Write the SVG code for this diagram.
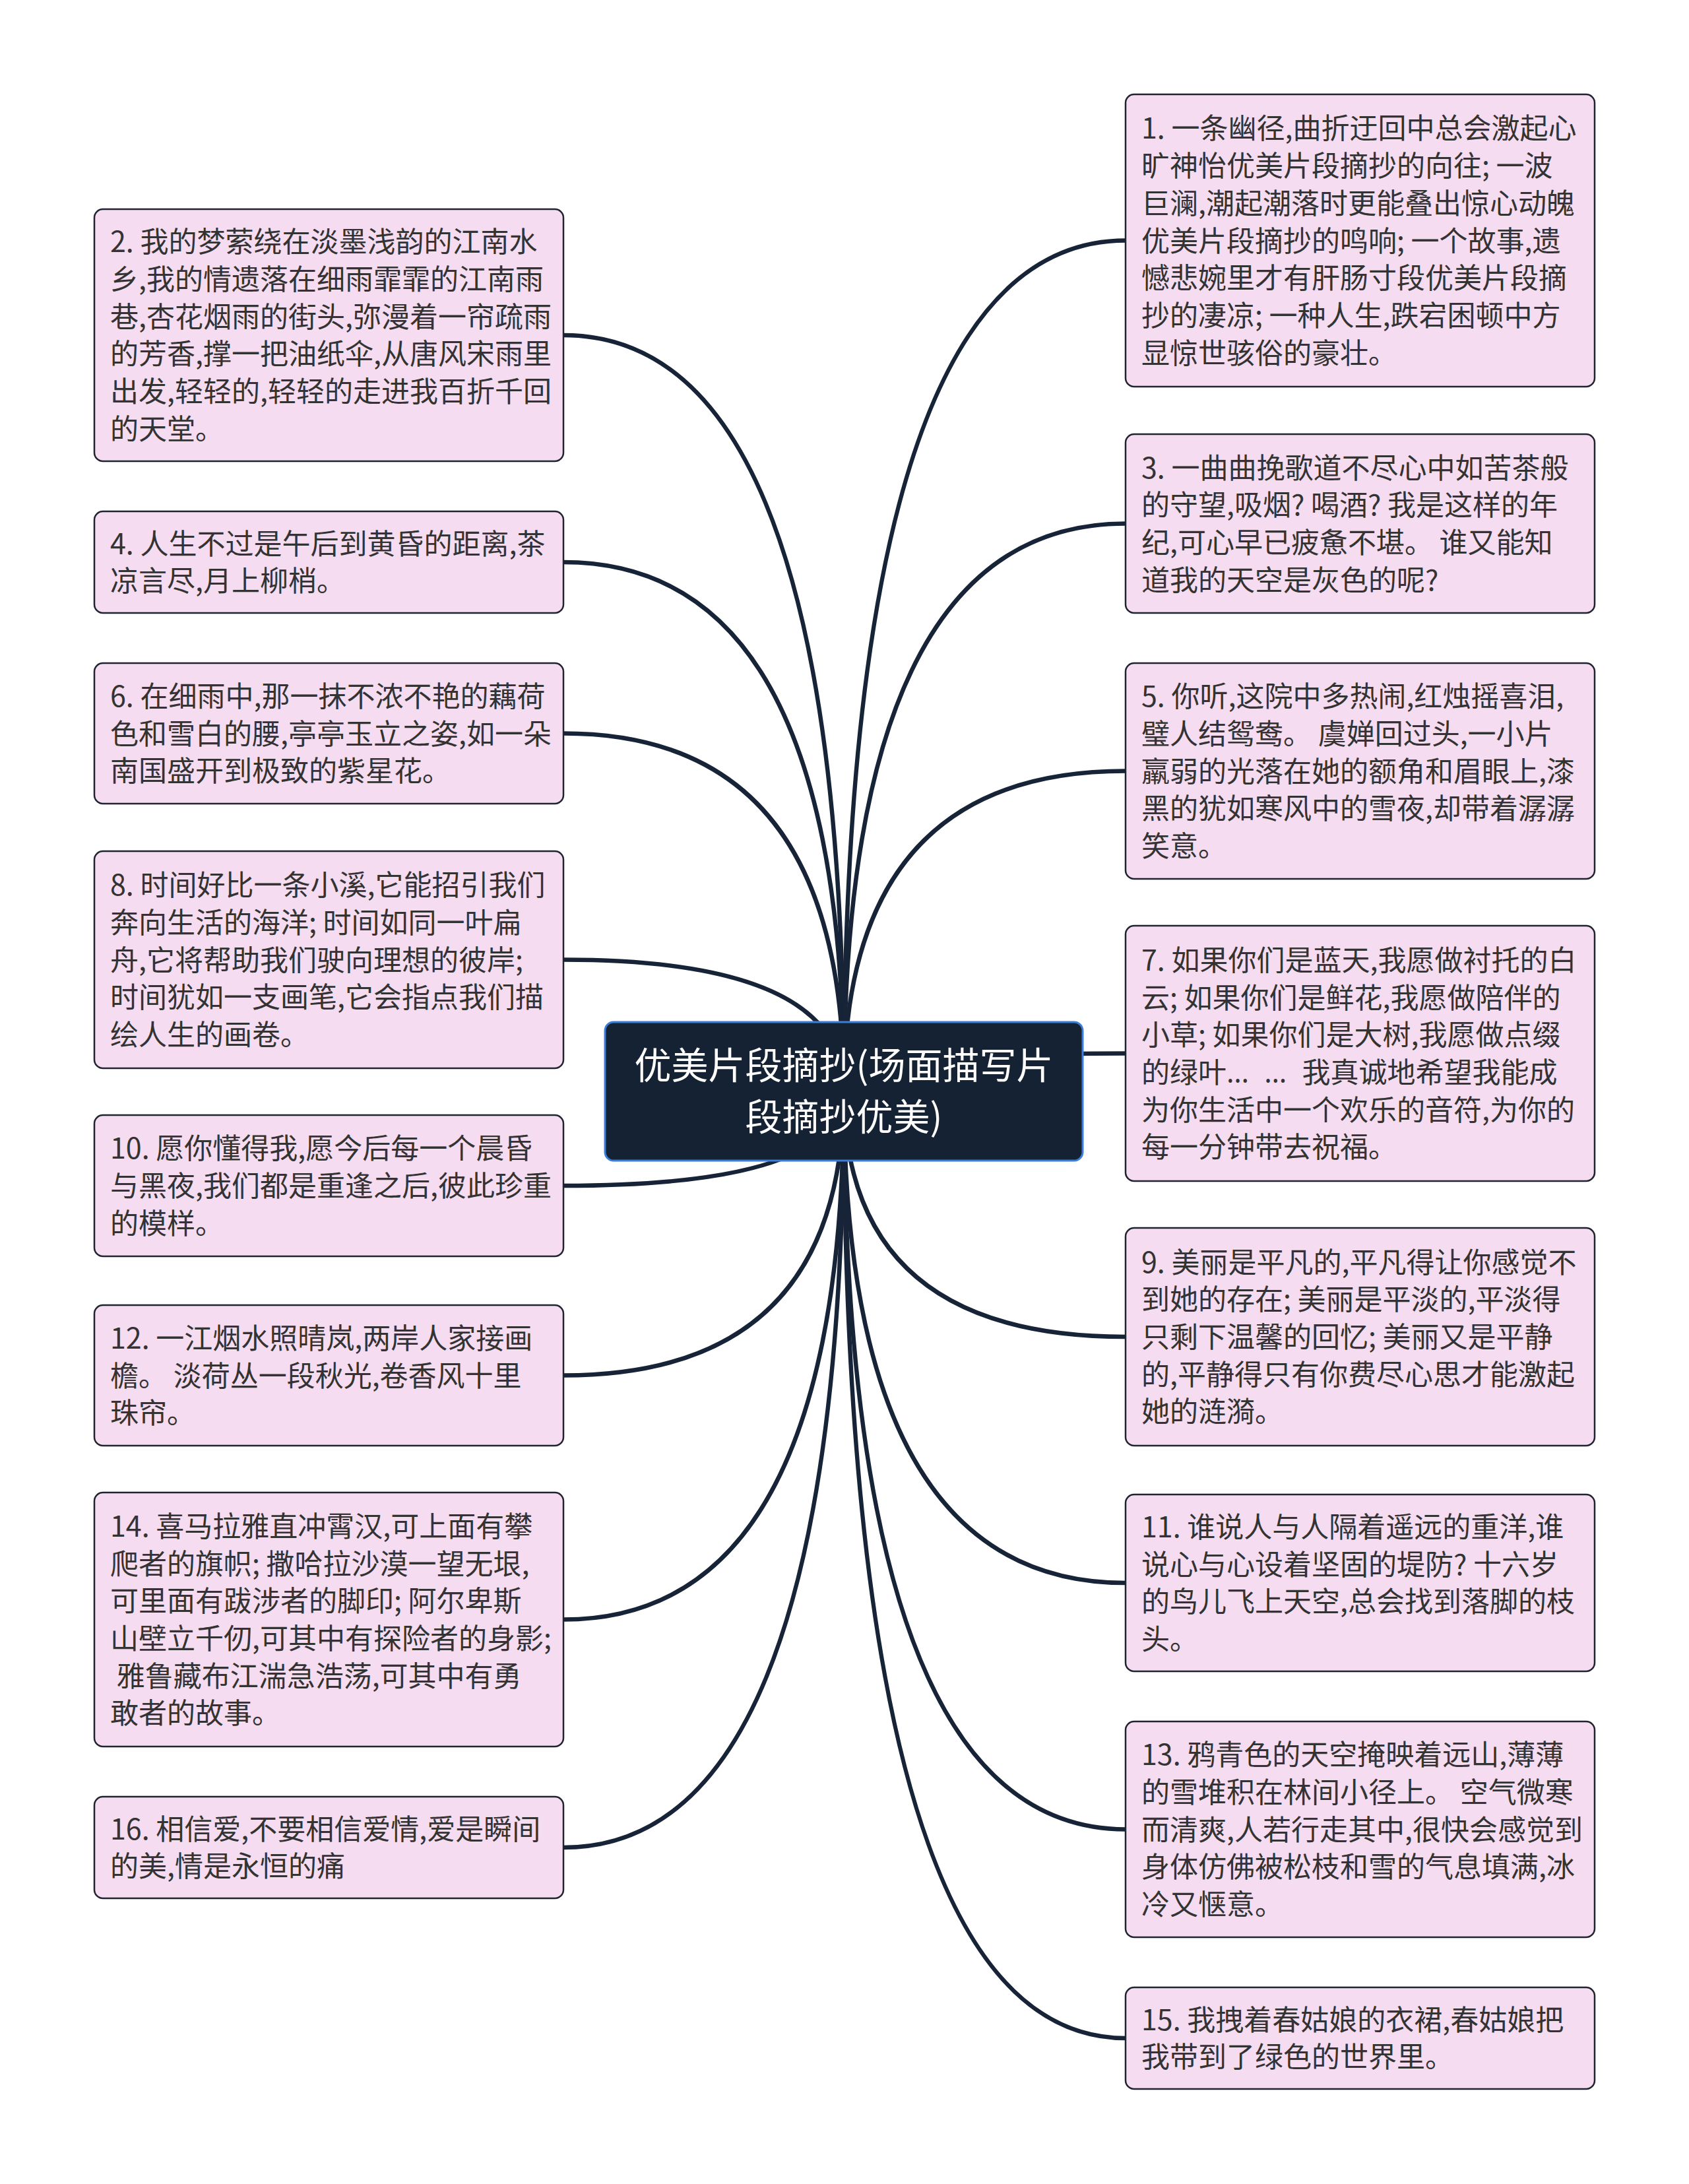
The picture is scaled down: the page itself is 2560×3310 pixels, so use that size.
<svg xmlns="http://www.w3.org/2000/svg" width="2560" height="3310" viewBox="0 0 2560 3310">
<style>
.bg{fill:#ffffff}
.node rect{fill:#f6dcf0;stroke:#1f2430;stroke-width:2.5}
.node text{font-family:"Noto Sans CJK SC","Noto Sans",sans-serif;font-size:43px;fill:#333333}
.lat{font-family:"Noto Sans","Liberation Sans",sans-serif;letter-spacing:6px}
.root rect{fill:#152234;stroke:#3b7fd6;stroke-width:3}
.root text{font-family:"Noto Sans CJK SC","Noto Sans",sans-serif;font-size:56px;fill:#ffffff;text-anchor:middle}
.links path{fill:none;stroke:#172337;stroke-width:6.5;stroke-linecap:round}
</style>
<rect class="bg" x="0" y="0" width="2560" height="3310"/>
<g id="connectors" class="links">
<path d="M1279 1652 Q1279 508 854 508"/>
<path d="M1279 1652 Q1279 852 854 852"/>
<path d="M1279 1652 Q1279 1111.5 854 1111.5"/>
<path d="M1279 1652 Q1279 1454.5 854 1454.5"/>
<path d="M1279 1652 Q1279 1797 854 1797"/>
<path d="M1279 1652 Q1279 2084.5 854 2084.5"/>
<path d="M1279 1652 Q1279 2454.5 854 2454.5"/>
<path d="M1279 1652 Q1279 2800 854 2800"/>
<path d="M1279 1652 Q1279 364.5 1706 364.5"/>
<path d="M1279 1652 Q1279 793.5 1706 793.5"/>
<path d="M1279 1652 Q1279 1168.5 1706 1168.5"/>
<path d="M1279 1652 Q1279 1596.5 1706 1596.5"/>
<path d="M1279 1652 Q1279 2026 1706 2026"/>
<path d="M1279 1652 Q1279 2399 1706 2399"/>
<path d="M1279 1652 Q1279 2772.5 1706 2772.5"/>
<path d="M1279 1652 Q1279 3089 1706 3089"/>
</g>
<g id="root" class="root">
<rect x="917" y="1549" width="724" height="210" rx="13"/>
<text><tspan x="1279" y="1635">优美片段摘抄(场面描写片</tspan><tspan x="1279" y="1713">段摘抄优美)</tspan></text>
</g>
<g id="n2" class="node">
<rect x="143" y="317" width="711" height="382" rx="13"/>
<text><tspan x="167" y="382.3">2. 我的梦萦绕在淡墨浅韵的江南水</tspan><tspan x="167" y="439">乡,我的情遗落在细雨霏霏的江南雨</tspan><tspan x="167" y="495.7">巷,杏花烟雨的街头,弥漫着一帘疏雨</tspan><tspan x="167" y="552.4">的芳香,撑一把油纸伞,从唐风宋雨里</tspan><tspan x="167" y="609.1">出发,轻轻的,轻轻的走进我百折千回</tspan><tspan x="167" y="665.8">的天堂。</tspan></text>
</g>
<g id="n4" class="node">
<rect x="143" y="775" width="711" height="154" rx="13"/>
<text><tspan x="167" y="839.7">4. 人生不过是午后到黄昏的距离,茶</tspan><tspan x="167" y="896.4">凉言尽,月上柳梢。</tspan></text>
</g>
<g id="n6" class="node">
<rect x="143" y="1005" width="711" height="213" rx="13"/>
<text><tspan x="167" y="1070.8">6. 在细雨中,那一抹不浓不艳的藕荷</tspan><tspan x="167" y="1127.5">色和雪白的腰,亭亭玉立之姿,如一朵</tspan><tspan x="167" y="1184.2">南国盛开到极致的紫星花。</tspan></text>
</g>
<g id="n8" class="node">
<rect x="143" y="1290" width="711" height="329" rx="13"/>
<text><tspan x="167" y="1357.1">8. 时间好比一条小溪,它能招引我们</tspan><tspan x="167" y="1413.8">奔向生活的海洋; 时间如同一叶扁</tspan><tspan x="167" y="1470.5">舟,它将帮助我们驶向理想的彼岸;</tspan><tspan x="167" y="1527.2">时间犹如一支画笔,它会指点我们描</tspan><tspan x="167" y="1583.9">绘人生的画卷。</tspan></text>
</g>
<g id="n10" class="node">
<rect x="143" y="1690" width="711" height="214" rx="13"/>
<text><tspan x="167" y="1756.3">10. 愿你懂得我,愿今后每一个晨昏</tspan><tspan x="167" y="1813">与黑夜,我们都是重逢之后,彼此珍重</tspan><tspan x="167" y="1869.7">的模样。</tspan></text>
</g>
<g id="n12" class="node">
<rect x="143" y="1978" width="711" height="213" rx="13"/>
<text><tspan x="167" y="2043.8">12. 一江烟水照晴岚,两岸人家接画</tspan><tspan x="167" y="2100.5">檐。 淡荷丛一段秋光,卷香风十里</tspan><tspan x="167" y="2157.2">珠帘。</tspan></text>
</g>
<g id="n14" class="node">
<rect x="143" y="2262" width="711" height="385" rx="13"/>
<text><tspan x="167" y="2328.8">14. 喜马拉雅直冲霄汉,可上面有攀</tspan><tspan x="167" y="2385.5">爬者的旗帜; 撒哈拉沙漠一望无垠,</tspan><tspan x="167" y="2442.2">可里面有跋涉者的脚印; 阿尔卑斯</tspan><tspan x="167" y="2498.9">山壁立千仞,可其中有探险者的身影;</tspan><tspan x="167" y="2555.6">&#160;雅鲁藏布江湍急浩荡,可其中有勇</tspan><tspan x="167" y="2612.3">敢者的故事。</tspan></text>
</g>
<g id="n16" class="node">
<rect x="143" y="2723" width="711" height="154" rx="13"/>
<text><tspan x="167" y="2787.7">16. 相信爱,不要相信爱情,爱是瞬间</tspan><tspan x="167" y="2844.4">的美,情是永恒的痛</tspan></text>
</g>
<g id="n1" class="node">
<rect x="1706" y="143" width="711" height="443" rx="13"/>
<text><tspan x="1730" y="210.4">1. 一条幽径,曲折迂回中总会激起心</tspan><tspan x="1730" y="267.1">旷神怡优美片段摘抄的向往; 一波</tspan><tspan x="1730" y="323.8">巨澜,潮起潮落时更能叠出惊心动魄</tspan><tspan x="1730" y="380.5">优美片段摘抄的鸣响; 一个故事,遗</tspan><tspan x="1730" y="437.2">憾悲婉里才有肝肠寸段优美片段摘</tspan><tspan x="1730" y="493.9">抄的凄凉; 一种人生,跌宕困顿中方</tspan><tspan x="1730" y="550.6">显惊世骇俗的豪壮。</tspan></text>
</g>
<g id="n3" class="node">
<rect x="1706" y="658" width="711" height="271" rx="13"/>
<text><tspan x="1730" y="724.5">3. 一曲曲挽歌道不尽心中如苦茶般</tspan><tspan x="1730" y="781.2">的守望,吸烟? 喝酒? 我是这样的年</tspan><tspan x="1730" y="837.9">纪,可心早已疲惫不堪。 谁又能知</tspan><tspan x="1730" y="894.6">道我的天空是灰色的呢?</tspan></text>
</g>
<g id="n5" class="node">
<rect x="1706" y="1005" width="711" height="327" rx="13"/>
<text><tspan x="1730" y="1071.1">5. 你听,这院中多热闹,红烛摇喜泪,</tspan><tspan x="1730" y="1127.8">璧人结鸳鸯。 虞婵回过头,一小片</tspan><tspan x="1730" y="1184.5">羸弱的光落在她的额角和眉眼上,漆</tspan><tspan x="1730" y="1241.2">黑的犹如寒风中的雪夜,却带着潺潺</tspan><tspan x="1730" y="1297.9">笑意。</tspan></text>
</g>
<g id="n7" class="node">
<rect x="1706" y="1403" width="711" height="387" rx="13"/>
<text><tspan x="1730" y="1470.8">7. 如果你们是蓝天,我愿做衬托的白</tspan><tspan x="1730" y="1527.5">云; 如果你们是鲜花,我愿做陪伴的</tspan><tspan x="1730" y="1584.2">小草; 如果你们是大树,我愿做点缀</tspan><tspan x="1730" y="1640.9">的绿叶<tspan class="lat">… … </tspan>我真诚地希望我能成</tspan><tspan x="1730" y="1697.6">为你生活中一个欢乐的音符,为你的</tspan><tspan x="1730" y="1754.3">每一分钟带去祝福。</tspan></text>
</g>
<g id="n9" class="node">
<rect x="1706" y="1861" width="711" height="330" rx="13"/>
<text><tspan x="1730" y="1928.6">9. 美丽是平凡的,平凡得让你感觉不</tspan><tspan x="1730" y="1985.3">到她的存在; 美丽是平淡的,平淡得</tspan><tspan x="1730" y="2042">只剩下温馨的回忆; 美丽又是平静</tspan><tspan x="1730" y="2098.7">的,平静得只有你费尽心思才能激起</tspan><tspan x="1730" y="2155.4">她的涟漪。</tspan></text>
</g>
<g id="n11" class="node">
<rect x="1706" y="2265" width="711" height="268" rx="13"/>
<text><tspan x="1730" y="2330">11. 谁说人与人隔着遥远的重洋,谁</tspan><tspan x="1730" y="2386.7">说心与心设着坚固的堤防? 十六岁</tspan><tspan x="1730" y="2443.4">的鸟儿飞上天空,总会找到落脚的枝</tspan><tspan x="1730" y="2500.1">头。</tspan></text>
</g>
<g id="n13" class="node">
<rect x="1706" y="2609" width="711" height="327" rx="13"/>
<text><tspan x="1730" y="2675.1">13. 鸦青色的天空掩映着远山,薄薄</tspan><tspan x="1730" y="2731.8">的雪堆积在林间小径上。 空气微寒</tspan><tspan x="1730" y="2788.5">而清爽,人若行走其中,很快会感觉到</tspan><tspan x="1730" y="2845.2">身体仿佛被松枝和雪的气息填满,冰</tspan><tspan x="1730" y="2901.9">冷又惬意。</tspan></text>
</g>
<g id="n15" class="node">
<rect x="1706" y="3012" width="711" height="154" rx="13"/>
<text><tspan x="1730" y="3076.7">15. 我拽着春姑娘的衣裙,春姑娘把</tspan><tspan x="1730" y="3133.4">我带到了绿色的世界里。</tspan></text>
</g>
</svg>
